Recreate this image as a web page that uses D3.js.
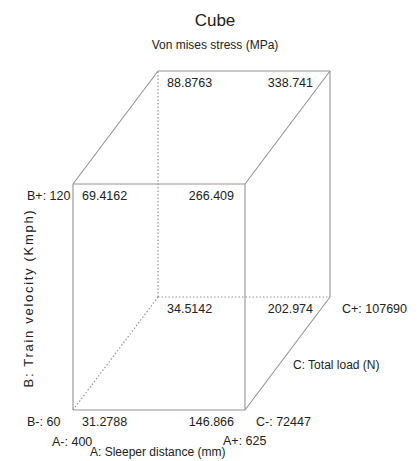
<!DOCTYPE html>
<html>
<head>
<meta charset="utf-8">
<script src="https://cdn.jsdelivr.net/npm/d3@7"></script>
<style>
  html, body { margin: 0; padding: 0; background: #fff; }
  svg text { font-family: "Liberation Sans", Arial, sans-serif; fill: #222; }
</style>
</head>
<body>
<svg id="chart" width="420" height="461"></svg>
<script>
// Factor levels (coded -1 / +1 and their real values)
const factorA = { name: "A: Sleeper distance (mm)", low: 400, high: 625 };
const factorB = { name: "B: Train velocity (Kmph)", low: 60, high: 120 };
const factorC = { name: "C: Total load (N)", low: 72447, high: 107690 };

// Cube corners: levels of A, B, C and predicted response
const levelsA = [-1, 1, -1, 1, -1, 1, -1, 1];
const levelsB = [-1, -1, 1, 1, -1, -1, 1, 1];
const levelsC = [-1, -1, -1, -1, 1, 1, 1, 1];
const response = [31.2788, 146.866, 69.4162, 266.409, 34.5142, 202.974, 88.8763, 338.741];

const title = "Cube";
const subtitle = "Von mises stress (MPa)";

const svg = d3.select("#chart");
const lineColor = "#939393";

// A runs left-right, B bottom-top, C goes back into the page (oblique)
const xA = d3.scaleLinear().domain([-1, 1]).range([73, 245]);
const yB = d3.scaleLinear().domain([-1, 1]).range([410, 184]);
const dxC = d3.scaleLinear().domain([-1, 1]).range([0, 85]);
const dyC = d3.scaleLinear().domain([-1, 1]).range([0, -113]);

const px = (a, b, c) => xA(a) + dxC(c);
const py = (a, b, c) => yB(b) + dyC(c);

// Edges: pairs of corners differing in one factor
const edges = [];
for (let i = 0; i < 8; i++) {
  for (let j = i + 1; j < 8; j++) {
    const diff = (levelsA[i] !== levelsA[j]) + (levelsB[i] !== levelsB[j]) + (levelsC[i] !== levelsC[j]);
    if (diff === 1) edges.push([i, j]);
  }
}
// hidden corner: A-, B-, C+ (index 4)
const hidden = 4;

svg.append("g").selectAll("line").data(edges).join("line")
  .attr("x1", d => px(levelsA[d[0]], levelsB[d[0]], levelsC[d[0]]))
  .attr("y1", d => py(levelsA[d[0]], levelsB[d[0]], levelsC[d[0]]))
  .attr("x2", d => px(levelsA[d[1]], levelsB[d[1]], levelsC[d[1]]))
  .attr("y2", d => py(levelsA[d[1]], levelsB[d[1]], levelsC[d[1]]))
  .attr("stroke", lineColor)
  .attr("stroke-width", d => (d.includes(hidden) ? 1.2 : 1.1))
  .attr("stroke-dasharray", d => (d.includes(hidden) ? "1.5,2" : null));

// Response values at each corner
svg.append("g").selectAll("text").data(response).join("text")
  .attr("x", (d, i) => {
    const x = px(levelsA[i], levelsB[i], levelsC[i]);
    if (levelsA[i] < 0) return x + 9;
    return x - (levelsC[i] > 0 ? 17 : 11);
  })
  .attr("y", (d, i) => py(levelsA[i], levelsB[i], levelsC[i]) + 16)
  .attr("text-anchor", (d, i) => (levelsA[i] < 0 ? "start" : "end"))
  .style("font-size", "12.5px")
  .text(d => d);

// Titles
svg.append("text").attr("x", 215).attr("y", 26).attr("text-anchor", "middle")
  .style("font-size", "17px").text(title);
svg.append("text").attr("x", 215).attr("y", 49).attr("text-anchor", "middle")
  .style("font-size", "12px").text(subtitle);

// Factor level labels
const lab = svg.append("g").style("font-size", "12.5px");
lab.append("text").attr("x", 27).attr("y", yB(1) + 16).text(`B+: ${factorB.high}`);
lab.append("text").attr("x", 27).attr("y", yB(-1) + 16).text(`B-: ${factorB.low}`);
lab.append("text").attr("x", xA(1) + 11).attr("y", yB(-1) + 16).text(`C-: ${factorC.low}`);
lab.append("text").attr("x", px(1, -1, 1) + 12).attr("y", py(1, -1, 1) + 16).text(`C+: ${factorC.high}`);
lab.append("text").attr("x", 52).attr("y", 446).text(`A-: ${factorA.low}`);
lab.append("text").attr("x", 223).attr("y", 445).text(`A+: ${factorA.high}`);

// Factor names
svg.append("text").attr("x", 90).attr("y", 456).style("font-size", "12px").text(factorA.name);
svg.append("text").attr("x", 293).attr("y", 369).style("font-size", "12px").text(factorC.name);
svg.append("text")
  .attr("transform", "translate(33,298) rotate(-90)")
  .attr("text-anchor", "middle")
  .style("font-size", "13px")
  .style("letter-spacing", "1.7px")
  .text(factorB.name);
</script>
</body>
</html>
